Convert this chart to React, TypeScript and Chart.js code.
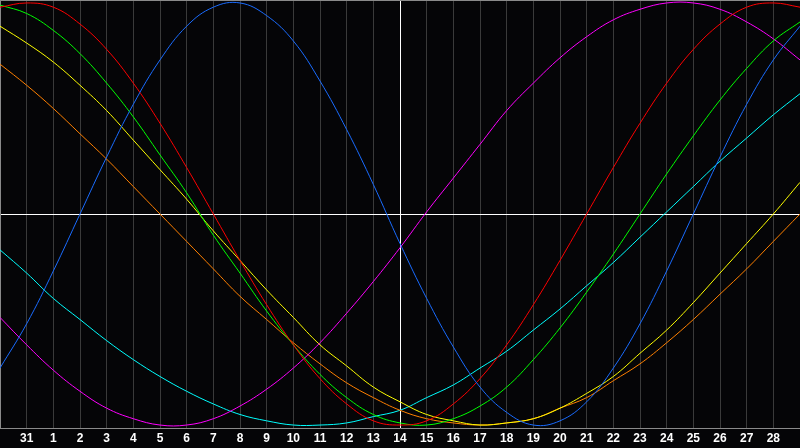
import { useEffect, useRef } from 'react';
import { Chart, registerables, type ChartConfiguration, type Plugin } from 'chart.js';

Chart.register(...registerables);

// days shown on the x axis (first and last are the frame edges, not labelled)
const dayLabels = [
  '30', '31', '1', '2', '3', '4', '5', '6', '7', '8', '9', '10', '11', '12', '13', '14',
  '15', '16', '17', '18', '19', '20', '21', '22', '23', '24', '25', '26', '27', '28', '29',
];
const todayIndex = 15; // "14"

// cycle values in % (-100..100), one per day
const physical = [-73, -52, -27, 0, 27, 52, 73, 89, 98, 100, 94, 82, 63, 40, 14, -14, -40, -63, -82, -94, -100, -98, -89, -73, -52, -27, 0, 27, 52, 73, 89];
const emotional = [98, 100, 98, 90, 78, 62, 43, 22, 0, -22, -43, -62, -78, -90, -98, -100, -98, -90, -78, -62, -43, -22, 0, 22, 43, 62, 78, 90, 98, 100, 98];
const intellectual = [99, 95, 87, 76, 62, 46, 28, 10, -10, -28, -46, -62, -76, -87, -95, -99, -100, -97, -91, -82, -69, -54, -37, -19, 0, 19, 37, 54, 69, 82, 91];
const intuitive = [-49, -62, -74, -84, -92, -97, -100, -100, -97, -91, -83, -73, -61, -47, -32, -16, 1, 17, 33, 49, 62, 74, 84, 92, 97, 100, 100, 97, 91, 83, 73];
const aesthetic = [89, 81, 72, 61, 49, 35, 21, 7, -8, -22, -36, -49, -62, -72, -82, -89, -95, -98, -100, -99, -97, -92, -85, -77, -66, -55, -42, -28, -14, 0, 15];
const awareness = [71, 61, 50, 38, 26, 13, 0, -13, -26, -39, -50, -61, -71, -80, -87, -93, -97, -99, -100, -99, -97, -92, -87, -79, -71, -61, -50, -38, -26, -13, 0];
const spiritual = [-17, -28, -40, -50, -60, -69, -77, -84, -90, -95, -98, -100, -100, -99, -96, -93, -87, -81, -73, -65, -55, -45, -34, -23, -11, 1, 13, 25, 36, 47, 57];

const series = [
  { label: 'Physical', data: physical, color: '#1a6cff' },
  { label: 'Emotional', data: emotional, color: '#ff0000' },
  { label: 'Intellectual', data: intellectual, color: '#00ff00' },
  { label: 'Intuitive', data: intuitive, color: '#ff00ff' },
  { label: 'Aesthetic', data: aesthetic, color: '#ffff00' },
  { label: 'Awareness', data: awareness, color: '#ff8000' },
  { label: 'Spiritual', data: spiritual, color: '#00ffff' },
];

const BG = '#050507';
const FRAME = '#8a8a8a';

// top edge of the plot frame (the scales draw left and bottom)
const topFrame: Plugin<'line'> = {
  id: 'topFrame',
  afterDraw(chart) {
    const { ctx, chartArea } = chart;
    ctx.save();
    ctx.strokeStyle = FRAME;
    ctx.lineWidth = 1;
    ctx.beginPath();
    ctx.moveTo(chartArea.left, chartArea.top + 0.5);
    ctx.lineTo(chartArea.right, chartArea.top + 0.5);
    ctx.stroke();
    ctx.restore();
  },
};

export default function App() {
  const canvasRef = useRef<HTMLCanvasElement>(null);
  const chartRef = useRef<Chart | null>(null);

  useEffect(() => {
    if (!canvasRef.current) return;
    const last = dayLabels.length - 1;

    const config: ChartConfiguration<'line'> = {
      type: 'line',
      data: {
        labels: dayLabels,
        datasets: series.map((s) => ({
          label: s.label,
          data: s.data,
          borderColor: s.color,
          borderWidth: 1,
          pointRadius: 0,
          tension: 0.4,
          fill: false,
        })),
      },
      options: {
        responsive: true,
        maintainAspectRatio: false,
        animation: false,
        events: [],
        layout: { padding: 0, autoPadding: false },
        plugins: {
          legend: { display: false },
          tooltip: { enabled: false },
        },
        scales: {
          x: {
            type: 'category',
            grid: {
              color: (ctx) => (ctx.index === todayIndex ? '#ffffff' : '#3a3a3a'),
              drawTicks: false,
              lineWidth: 1,
            },
            border: { display: true, color: FRAME },
            ticks: {
              color: '#ffffff',
              padding: 0, // also pads the scale sideways, so keep it 0
              autoSkip: false,
              maxRotation: 0,
              font: { family: '"Liberation Sans", Arial, sans-serif', size: 12, weight: 'bold', lineHeight: '22px' },
              callback: (_v, i) => (i === 0 || i === last ? '' : dayLabels[i]),
            },
            afterFit: (scale) => { scale.height = 20; },
          },
          y: {
            min: -101.4,
            max: 101.4,
            afterBuildTicks: (scale) => { scale.ticks = [{ value: 0 }]; },
            ticks: { display: false },
            grid: { color: '#ffffff', drawTicks: false, lineWidth: 1 },
            border: { display: true, color: FRAME },
          },
        },
      },
      plugins: [topFrame],
    };

    chartRef.current = new Chart(canvasRef.current, config);
    return () => { chartRef.current?.destroy(); chartRef.current = null; };
  }, []);

  return (
    <div style={{ position: 'fixed', left: 0, top: 0, width: 800, height: 448, background: BG }}>
      <canvas ref={canvasRef} role="img" aria-label="Biorhythm chart" />
    </div>
  );
}
